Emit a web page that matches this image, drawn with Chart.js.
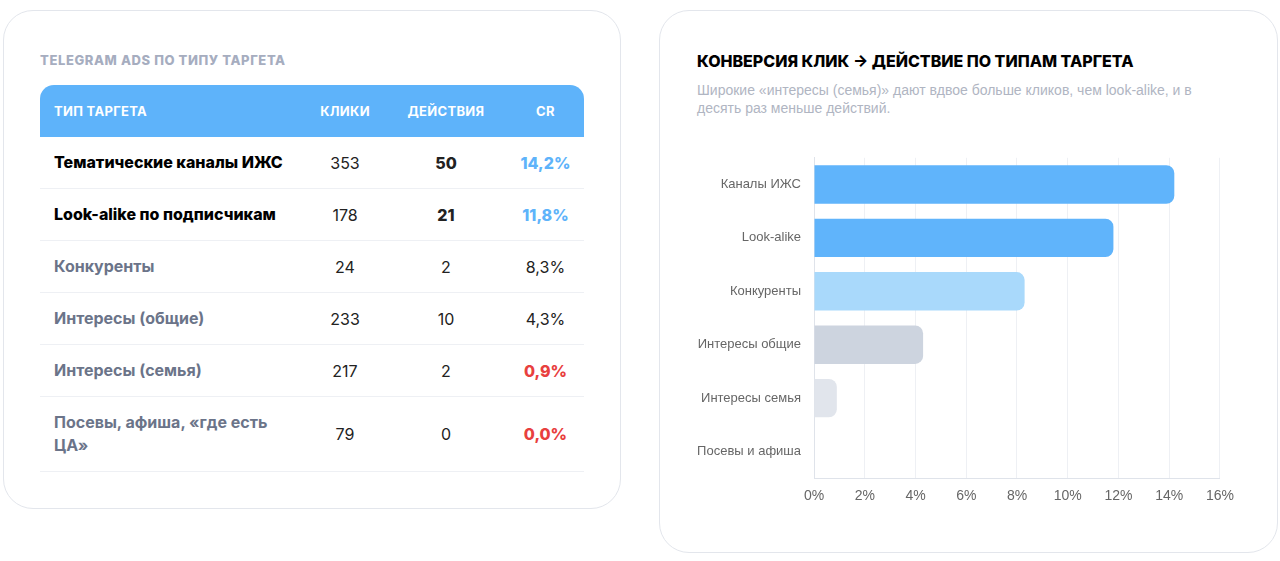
<!DOCTYPE html>
<html><head><meta charset="utf-8">
<script src="https://cdn.jsdelivr.net/npm/chart.js@4"></script>
<style>
body{margin:0;width:1280px;height:561px;background:#fff;font-family:"Inter","Open Sans",sans-serif;position:relative;overflow:hidden}
.card{position:absolute;border:1px solid #e3e6ec;border-radius:30px;background:#fff}
#left{left:3px;top:10px;width:616px;height:497px}
#right{left:659px;top:10px;width:617px;height:541px}
.ltitle{position:absolute;left:36px;top:41px;font-size:13px;font-weight:800;color:#a6adbf;letter-spacing:0.6px}
table{position:absolute;left:36px;top:74px;width:544px;border-collapse:collapse}
th{background:#5eb3fa;color:#fff;font-size:13px;font-weight:700;height:50px;text-align:center;letter-spacing:0.3px}
th:first-child{text-align:left;padding-left:14px;border-top-left-radius:14px}
th:last-child{border-top-right-radius:14px}
td{height:51px;padding:0;border-bottom:1px solid #eef0f4;text-align:center;font-size:16px;color:#222}
td:first-child{text-align:left;padding-left:14px;font-weight:700;color:#6b7489;font-size:16px;line-height:23px}
tr.hl td:first-child{color:#000;font-weight:800}
tr.hl td.act{font-weight:800}
.blue{color:#5eb3fa;font-weight:800!important}
.red{color:#e8403e;font-weight:800!important}
tr.tall td{height:74px}
.rtitle{position:absolute;left:37px;top:40px;font-size:16px;font-weight:800;color:#000}
.rsub{position:absolute;left:37px;top:70px;font-size:14px;color:#b0b5c2;line-height:18px;width:535px;font-family:"Liberation Sans",Arial,sans-serif}
#wrap{position:absolute;left:680px;top:137px;width:564px;height:378px}
</style></head><body>
<div class="card" id="left">
<div class="ltitle">TELEGRAM ADS ПО ТИПУ ТАРГЕТА</div>
<table><thead><tr><th style="width:250px">ТИП ТАРГЕТА</th><th>КЛИКИ</th><th>ДЕЙСТВИЯ</th><th>CR</th></tr></thead><tbody id="tb"></tbody></table>
</div>
<div class="card" id="right">
<div class="rtitle">КОНВЕРСИЯ КЛИК → ДЕЙСТВИЕ ПО ТИПАМ ТАРГЕТА</div>
<div class="rsub">Широкие «интересы (семья)» дают вдвое больше кликов, чем look-alike, и в десять раз меньше действий.</div>
</div>
<div id="wrap"><canvas id="c"></canvas></div>
<script>
const tableNames = ["Тематические каналы ИЖС", "Look-alike по подписчикам", "Конкуренты", "Интересы (общие)", "Интересы (семья)", "Посевы, афиша, «где есть ЦА»"];
const clicks = [353, 178, 24, 233, 217, 79];
const actions = [50, 21, 2, 10, 2, 0];
const crText = ["14,2%", "11,8%", "8,3%", "4,3%", "0,9%", "0,0%"];
const crClass = ["blue", "blue", "", "", "red", "red"];

const chartLabels = ["Каналы ИЖС", "Look-alike", "Конкуренты", "Интересы общие", "Интересы семья", "Посевы и афиша"];
const crValues = [14.2, 11.8, 8.3, 4.3, 0.9, 0.0];
const barColors = ["#60b4fb", "#60b4fb", "#a9d9fb", "#cdd4df", "#e1e5ec", "#eef0f4"];

const tb = document.getElementById("tb");
tableNames.forEach((n, i) => {
  const tr = document.createElement("tr");
  if (i < 2) tr.className = "hl";
  if (i === 5) tr.className = "tall";
  tr.innerHTML = `<td>${n}</td><td>${clicks[i]}</td><td class="act">${actions[i]}</td><td class="${crClass[i]}">${crText[i]}</td>`;
  tb.appendChild(tr);
});

new Chart(document.getElementById("c"), {
  type: "bar",
  data: {
    labels: chartLabels,
    datasets: [{
      data: crValues,
      backgroundColor: barColors,
      borderRadius: {topRight: 8, bottomRight: 8, topLeft: 0, bottomLeft: 0},
      borderSkipped: false,
      barPercentage: 0.72,
      categoryPercentage: 1
    }]
  },
  options: {
    indexAxis: "y",
    responsive: true,
    maintainAspectRatio: false,
    animation: false,
    layout: {padding: {top: 8, right: 20}},
    plugins: {legend: {display: false}, tooltip: {enabled: false}},
    scales: {
      x: {
        min: 0, max: 16,
        ticks: {stepSize: 2, callback: v => v + "%", color: "#666", font: {family: "Liberation Sans", size: 14}, padding: 10},
        grid: {color: "#eef0f4", drawTicks: false},
        border: {color: "#dfe3ea"}
      },
      y: {
        afterFit: s => { s.width = 134; },
        ticks: {color: "#666", font: {family: "Liberation Sans", size: 13}, padding: 13},
        grid: {display: false, drawTicks: false},
        border: {color: "#dfe3ea"}
      }
    }
  }
});
</script>
</body></html>
